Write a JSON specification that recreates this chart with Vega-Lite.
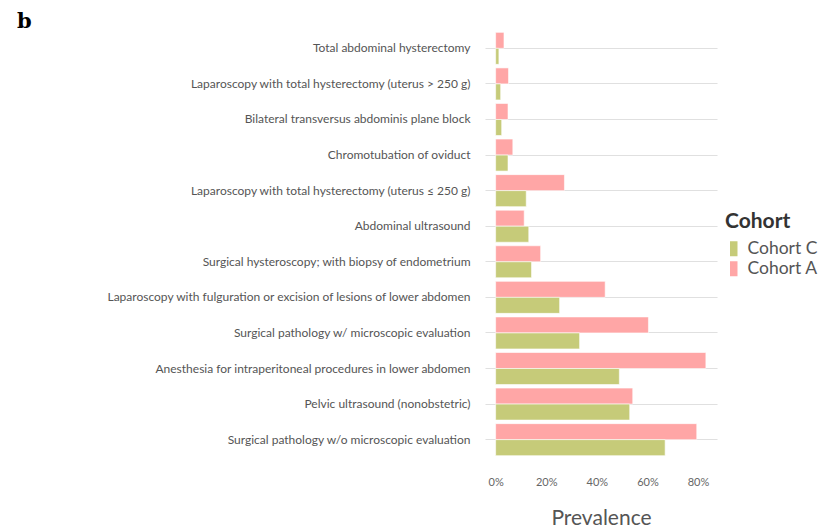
{
  "$schema": "https://vega.github.io/schema/vega-lite/v6.json",
  "autosize": {"type": "none"},
  "width": 232,
  "height": 434,
  "padding": {"left": 485, "top": 27, "right": 112, "bottom": 70},
  "background": "white",
  "config": {"view": {"stroke": null}, "font": "Lato"},
  "title": {
    "text": "b",
    "anchor": "start",
    "frame": "group",
    "dx": -468,
    "offset": -5,
    "font": "DejaVu Serif",
    "fontSize": 21,
    "fontWeight": "bold",
    "color": "black"
  },
  "data": {
    "values": [
      {"proc": "Total abdominal hysterectomy", "cohort": "Cohort A", "prev": 0.033},
      {"proc": "Total abdominal hysterectomy", "cohort": "Cohort C", "prev": 0.013},
      {"proc": "Laparoscopy with total hysterectomy (uterus > 250 g)", "cohort": "Cohort A", "prev": 0.051},
      {"proc": "Laparoscopy with total hysterectomy (uterus > 250 g)", "cohort": "Cohort C", "prev": 0.020},
      {"proc": "Bilateral transversus abdominis plane block", "cohort": "Cohort A", "prev": 0.049},
      {"proc": "Bilateral transversus abdominis plane block", "cohort": "Cohort C", "prev": 0.024},
      {"proc": "Chromotubation of oviduct", "cohort": "Cohort A", "prev": 0.068},
      {"proc": "Chromotubation of oviduct", "cohort": "Cohort C", "prev": 0.049},
      {"proc": "Laparoscopy with total hysterectomy (uterus ≤ 250 g)", "cohort": "Cohort A", "prev": 0.272},
      {"proc": "Laparoscopy with total hysterectomy (uterus ≤ 250 g)", "cohort": "Cohort C", "prev": 0.121},
      {"proc": "Abdominal ultrasound", "cohort": "Cohort A", "prev": 0.113},
      {"proc": "Abdominal ultrasound", "cohort": "Cohort C", "prev": 0.131},
      {"proc": "Surgical hysteroscopy; with biopsy of endometrium", "cohort": "Cohort A", "prev": 0.178},
      {"proc": "Surgical hysteroscopy; with biopsy of endometrium", "cohort": "Cohort C", "prev": 0.142},
      {"proc": "Laparoscopy with fulguration or excision of lesions of lower abdomen", "cohort": "Cohort A", "prev": 0.433},
      {"proc": "Laparoscopy with fulguration or excision of lesions of lower abdomen", "cohort": "Cohort C", "prev": 0.253},
      {"proc": "Surgical pathology w/ microscopic evaluation", "cohort": "Cohort A", "prev": 0.604},
      {"proc": "Surgical pathology w/ microscopic evaluation", "cohort": "Cohort C", "prev": 0.332},
      {"proc": "Anesthesia for intraperitoneal procedures in lower abdomen", "cohort": "Cohort A", "prev": 0.831},
      {"proc": "Anesthesia for intraperitoneal procedures in lower abdomen", "cohort": "Cohort C", "prev": 0.489},
      {"proc": "Pelvic ultrasound (nonobstetric)", "cohort": "Cohort A", "prev": 0.542},
      {"proc": "Pelvic ultrasound (nonobstetric)", "cohort": "Cohort C", "prev": 0.530},
      {"proc": "Surgical pathology w/o microscopic evaluation", "cohort": "Cohort A", "prev": 0.795},
      {"proc": "Surgical pathology w/o microscopic evaluation", "cohort": "Cohort C", "prev": 0.670}
    ]
  },
  "mark": {"type": "bar", "stroke": "white", "strokeWidth": 0.6},
  "encoding": {
    "y": {
      "field": "proc",
      "type": "nominal",
      "sort": null,
      "scale": {"paddingInner": 0.1, "paddingOuter": 0.15},
      "axis": {
        "title": null,
        "ticks": false,
        "domain": false,
        "grid": true,
        "bandPosition": 0.5,
        "gridColor": "#e0e0e0",
        "gridWidth": 1.2,
        "labelFontSize": 12,
        "labelColor": "#555555",
        "labelPadding": 15,
        "labelLimit": 500
      }
    },
    "yOffset": {
      "field": "cohort",
      "type": "nominal",
      "sort": ["Cohort A", "Cohort C"]
    },
    "x": {
      "field": "prev",
      "type": "quantitative",
      "scale": {"domain": [-0.042, 0.875], "nice": false, "zero": false},
      "axis": {
        "title": "Prevalence",
        "format": ".0%",
        "values": [0, 0.2, 0.4, 0.6, 0.8],
        "grid": false,
        "ticks": false,
        "domain": false,
        "labelFontSize": 11,
        "labelColor": "#666666",
        "labelPadding": 15,
        "titleFontSize": 21,
        "titleFontWeight": "normal",
        "titleColor": "#555555",
        "titlePadding": 20
      }
    },
    "color": {
      "field": "cohort",
      "type": "nominal",
      "scale": {"domain": ["Cohort C", "Cohort A"], "range": ["#c6cb79", "#ffa6a6"]},
      "legend": {
        "title": "Cohort",
        "titleFontSize": 21,
        "titleFontWeight": "bold",
        "titleColor": "#333333",
        "titlePadding": 8,
        "labelFontSize": 17.5,
        "labelColor": "#555555",
        "symbolType": "M-0.5,-1L0.5,-1L0.5,1L-0.5,1Z",
        "symbolSize": 225,
        "symbolStrokeWidth": 0,
        "rowPadding": 1,
        "labelOffset": 5,
        "orient": "none",
        "legendX": 240,
        "legendY": 184,
        "padding": 0
      }
    }
  }
}
